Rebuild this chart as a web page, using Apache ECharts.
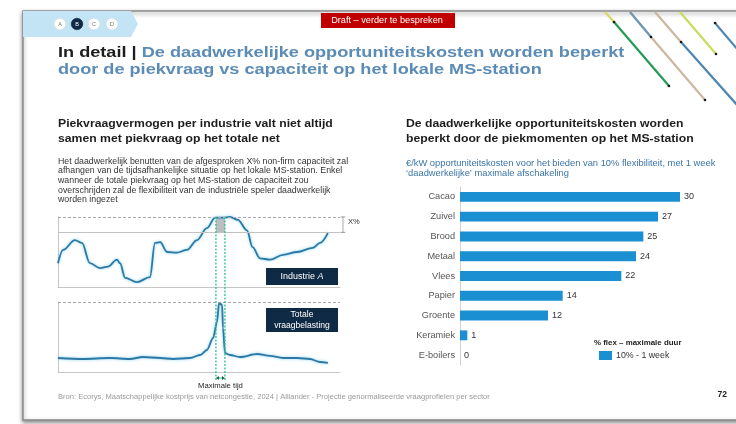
<!DOCTYPE html>
<html>
<head>
<meta charset="utf-8">
<script src="https://cdn.jsdelivr.net/npm/echarts@6/dist/echarts.min.js"></script>
<style>
  html, body { margin: 0; padding: 0; background: #ffffff; }
  #chart { width: 736px; height: 424px; }
</style>
</head>
<body>
<div id="chart"></div>
<script>
const FONT = '"Liberation Sans", Arial, sans-serif';

// Industrie A: demand over the period (time in % of period, load in % of contracted capacity)
const industryTime = [0, 1.8, 6, 8.5, 11.3, 14.9, 17.7, 20.9, 22, 23.8, 28, 32.6, 34.4, 36.2, 38.7, 42.2, 45.7, 49.3, 52.8, 55.7, 58.5, 61, 63.8, 67, 69, 71.6, 75.2, 79.8, 84.8, 90.4, 92.9, 95.7];
const industryLoad = [34, 53, 67, 63, 34, 27, 29, 39, 34, 13, 7, 14, 63, 64, 50, 49, 53, 67, 84, 99, 99, 100, 96, 81, 57, 41, 39, 46, 50, 56, 63, 77];

// Totale vraagbelasting on the MS-station over the same period
const totalTime = [0, 8.9, 18.4, 25.5, 30.1, 36.2, 40.8, 46.8, 50.4, 52.8, 55, 56.4, 57.1, 58.2, 58.5, 59.2, 61, 64.5, 70.6, 75.2, 79.8, 84.8, 89.4, 92.9, 95.7];
const totalLoad = [20, 18.6, 20, 18.6, 21.4, 20, 18.6, 20, 24.3, 31.4, 48.6, 71.4, 98.6, 95.7, 62.9, 27.1, 24.3, 21.4, 25.7, 22.9, 20, 20, 18.6, 14.3, 12.9];

const capacityLevel = 100;   // contracted capacity
const firmLevel = 78;        // firm part (capacity minus X%)
const peakWindow = [56, 59.2]; // moment of maximal total demand

// Opportunity cost per sector (EUR/kW)
const sectors = ['Cacao', 'Zuivel', 'Brood', 'Metaal', 'Vlees', 'Papier', 'Groente', 'Keramiek', 'E-boilers'];
const costs = [30, 27, 25, 24, 22, 14, 12, 1, 0];
const scenarioName = '10% - 1 week';

const pairs = (xs, ys) => xs.map((x, i) => [x, ys[i]]);

const chart = echarts.init(document.getElementById('chart'), null, { renderer: 'canvas' });

const lineStyleMain = {
  color: '#2d78a4', width: 1.8,
  shadowColor: 'rgba(120,205,240,0.9)', shadowBlur: 3
};
const hiddenAxis = (grid) => ({
  gridIndex: grid, type: 'value', min: 0, max: 100,
  axisLine: { show: true, lineStyle: { color: '#c6c6c6', width: 1 } },
  axisTick: { show: false }, axisLabel: { show: false }, splitLine: { show: false }
});

chart.setOption({
  animation: false,
  textStyle: { fontFamily: FONT },
  grid: [
    { left: 58, top: 217, width: 282, height: 70 },
    { left: 58, top: 302, width: 282, height: 70 },
    { left: 460, top: 187, width: 220, height: 178 }
  ],
  xAxis: [
    hiddenAxis(0),
    hiddenAxis(1),
    { gridIndex: 2, type: 'value', min: 0, max: 30, show: false }
  ],
  yAxis: [
    hiddenAxis(0),
    hiddenAxis(1),
    {
      gridIndex: 2, type: 'category', data: sectors, inverse: true,
      axisLine: { show: true, lineStyle: { color: '#d0d0d0' } },
      axisTick: { show: false },
      axisLabel: { color: '#555', fontSize: 9.2, margin: 5, fontFamily: FONT }
    }
  ],
  legend: {
    data: [scenarioName], left: 594, top: 346, icon: 'rect',
    itemWidth: 13, itemHeight: 9, itemGap: 0, selectedMode: false,
    textStyle: { fontSize: 8.8, color: '#333', fontFamily: FONT, padding: [0, 0, 0, -1] }
  },
  series: [
    {
      name: 'Industrie A', type: 'line', xAxisIndex: 0, yAxisIndex: 0,
      data: pairs(industryTime, industryLoad), symbol: 'none',
      smooth: 0.35, smoothMonotone: 'x', clip: false, z: 3,
      lineStyle: lineStyleMain,
      markLine: {
        silent: true, symbol: ['none', 'none'], label: { show: false },
        data: [
          { yAxis: capacityLevel, lineStyle: { type: [3, 2], color: '#a9a9a9', width: 1 } },
          { yAxis: firmLevel, lineStyle: { type: 'solid', color: '#c2c2c2', width: 1 } }
        ]
      },
      markArea: {
        silent: true, itemStyle: { color: '#bdbdbd' },
        data: [[{ xAxis: peakWindow[0], yAxis: firmLevel }, { xAxis: peakWindow[1], yAxis: capacityLevel }]]
      }
    },
    {
      name: 'Totale vraagbelasting', type: 'line', xAxisIndex: 1, yAxisIndex: 1,
      data: pairs(totalTime, totalLoad), symbol: 'none',
      smooth: 0.3, smoothMonotone: 'x', clip: false, z: 3,
      lineStyle: lineStyleMain,
      markLine: {
        silent: true, symbol: ['none', 'none'], label: { show: false },
        data: [{ yAxis: capacityLevel, lineStyle: { type: [3, 2], color: '#a9a9a9', width: 1 } }]
      }
    },
    {
      name: scenarioName, type: 'bar', xAxisIndex: 2, yAxisIndex: 2,
      data: costs, barCategoryGap: '50%',
      itemStyle: { color: '#1a8fd1' },
      label: { show: true, position: 'right', distance: 4, fontSize: 9, color: '#333', fontFamily: FONT }
    }
  ]
});

// Annotation geometry follows the axes of the first two panels
const xPeak0 = chart.convertToPixel({ xAxisIndex: 0 }, peakWindow[0]);
const xPeak1 = chart.convertToPixel({ xAxisIndex: 0 }, peakWindow[1]);
const yCap = chart.convertToPixel({ yAxisIndex: 0 }, capacityLevel);
const yFirm = chart.convertToPixel({ yAxisIndex: 0 }, firmLevel);
const xRight = chart.convertToPixel({ xAxisIndex: 0 }, 100);
const yArrow = 378;

// text element; sx widens the glyphs slightly like the slide typeface
const txt = (x, y, text, opts, sx) => ({
  type: 'text', x, y, scaleX: sx || 1, silent: true, z: 20,
  style: Object.assign({
    text, fontFamily: FONT, fontSize: 8, fill: '#333',
    textAlign: 'left', textVerticalAlign: 'middle'
  }, opts || {})
});
const seg = (x1, y1, x2, y2, stroke, lineWidth, extra) => ({
  type: 'line', silent: true, z: 15,
  shape: { x1, y1, x2, y2 },
  style: Object.assign({ stroke, lineWidth, lineCap: 'round' }, extra || {})
});
const dot = (x, y) => ({ type: 'circle', silent: true, z: 16, shape: { cx: x, cy: y, r: 1.3 }, style: { fill: '#1a1a1a' } });

const graphic = [];

// slide frame
graphic.push({
  type: 'rect', silent: true, z: -10,
  shape: { x: 23, y: 11, width: 800, height: 409 },
  style: { fill: '#ffffff', stroke: '#8c8c8c', lineWidth: 1.5, shadowColor: 'rgba(0,0,0,0.45)', shadowBlur: 4, shadowOffsetY: 2 }
});

// section tab with A-B-C-D markers
graphic.push({
  type: 'polygon', silent: true, z: 1,
  shape: { points: [[23, 11], [131, 11], [138, 24], [131, 37], [23, 37]] },
  style: { fill: '#c3e4f5' }
});
[['A', 60], ['B', 77], ['C', 94], ['D', 112]].forEach(([l, x]) => {
  const active = l === 'B';
  graphic.push({ type: 'circle', silent: true, z: 2, shape: { cx: x, cy: 24, r: 5.8 },
    style: { fill: active ? '#0f2a45' : '#ffffff', stroke: active ? '#0f2a45' : '#dddddd', lineWidth: 0.6 } });
  graphic.push(txt(x, 24.3, l, { textAlign: 'center', fontSize: 5.5, fill: active ? '#ffffff' : '#777' }));
});

// draft banner
graphic.push({ type: 'rect', silent: true, z: 2, shape: { x: 321, y: 13, width: 134, height: 15 }, style: { fill: '#c00000' } });
graphic.push(txt(387, 20.5, 'Draft \u2013 verder te bespreken', { textAlign: 'center', fontSize: 8.5, fill: '#ffffff' }, 1.08));

// decorative diagonal strokes
[
  [605, 12, 614, 22, '#d9d96a'], [614, 22, 669, 86, '#239a58'],
  [630, 12, 651, 37, '#6b93b3'], [651, 37, 705, 100, '#cbb99e'],
  [655, 12, 681, 42, '#c9b89f'], [681, 42, 738, 106, '#4f86b0'],
  [680, 12, 716, 54, '#c9dc5c'],
  [715, 23, 738, 50, '#4f86b0']
].forEach(s => graphic.push(seg(s[0], s[1], s[2], s[3], s[4], 2.2, { lineCap: 'butt' })));
[[614, 22], [669, 86], [651, 37], [705, 100], [681, 42], [716, 54], [715, 23]].forEach(p => graphic.push(dot(p[0], p[1])));

// slide title (two lines, block centred between both line centres)
graphic.push({
  type: 'text', x: 58, y: 61, scaleX: 1.17, silent: true, z: 20,
  style: {
    text: '{a|In detail | }{b|De daadwerkelijke opportuniteitskosten worden beperkt}\n{b|door de piekvraag vs capaciteit op het lokale MS-station}',
    textVerticalAlign: 'middle', lineHeight: 16.5,
    rich: {
      a: { fontFamily: FONT, fontSize: 15.5, fontWeight: 'bold', fill: '#1d1d1d', lineHeight: 16.5 },
      b: { fontFamily: FONT, fontSize: 15.5, fontWeight: 'bold', fill: '#5b8cb6', lineHeight: 16.5 }
    }
  }
});

// left panel texts
const headStyle = { fontSize: 11, fontWeight: 'bold', fill: '#1d1d1d' };
graphic.push(txt(58, 124, 'Piekvraagvermogen per industrie valt niet altijd', headStyle, 1.11));
graphic.push(txt(58, 139, 'samen met piekvraag op het totale net', headStyle, 1.11));
[
  'Het daadwerkelijk benutten van de afgesproken X% non-firm capaciteit zal',
  'afhangen van de tijdsafhankelijke situatie op het lokale MS-station. Enkel',
  'wanneer de totale piekvraag op het MS-station de capaciteit zou',
  'overschrijden zal de flexibiliteit van de industri\u00eble speler daadwerkelijk',
  'worden ingezet'
].forEach((l, i) => graphic.push(txt(58, 161.5 + i * 9.6, l, { fontSize: 8.2, fill: '#333' }, 1.075)));

// right panel texts
graphic.push(txt(406, 124, 'De daadwerkelijke opportuniteitskosten worden', headStyle, 1.11));
graphic.push(txt(406, 139, 'beperkt door de piekmomenten op het MS-station', headStyle, 1.11));
graphic.push(txt(406, 163.5, '\u20ac/kW opportuniteitskosten voor het bieden van 10% flexibiliteit, met 1 week', { fontSize: 8.4, fill: '#3a74a6' }, 1.115));
graphic.push(txt(406, 173.5, '\u2018daadwerkelijke\u2019 maximale afschakeling', { fontSize: 8.4, fill: '#3a74a6' }, 1.115));
graphic.push(txt(594, 343, '% flex \u2013 maximale duur', { fontSize: 7.4, fontWeight: 'bold', fill: '#222' }, 1.07));

// X% bracket between firm level and capacity
graphic.push(seg(xRight + 3, yCap, xRight + 3, yFirm, '#888', 0.8, { lineDash: [1, 1] }));
graphic.push(seg(xRight + 1, yCap, xRight + 5, yCap, '#888', 0.8));
graphic.push(seg(xRight + 1, yFirm, xRight + 5, yFirm, '#888', 0.8));
graphic.push(txt(xRight + 8, yCap + 5, 'X%', { fontSize: 7.5, fill: '#333' }));

// peak window markers through both panels
[xPeak0, xPeak1].forEach(x => graphic.push(seg(x, yCap, x, yArrow + 3, '#2fbf8f', 1.3, { lineDash: [2, 1.5], lineCap: 'butt' })));
graphic.push(seg(xPeak0 + 2, yArrow, xPeak1 - 2, yArrow, '#2fbf8f', 1));
graphic.push({ type: 'polygon', silent: true, z: 16, shape: { points: [[xPeak0, yArrow], [xPeak0 + 3, yArrow - 2], [xPeak0 + 3, yArrow + 2]] }, style: { fill: '#1f5f4c' } });
graphic.push({ type: 'polygon', silent: true, z: 16, shape: { points: [[xPeak1, yArrow], [xPeak1 - 3, yArrow - 2], [xPeak1 - 3, yArrow + 2]] }, style: { fill: '#1f5f4c' } });
graphic.push(txt((xPeak0 + xPeak1) / 2, 386, 'Maximale tijd', { textAlign: 'center', fontSize: 7.2, fill: '#222' }, 1.07));

// panel name tags
graphic.push({ type: 'rect', silent: true, z: 18, shape: { x: 266, y: 268, width: 72, height: 17 }, style: { fill: '#0f2a45' } });
graphic.push({
  type: 'text', x: 302, y: 276.5, scaleX: 1.08, silent: true, z: 20,
  style: {
    text: '{n|Industrie }{i|A}', textAlign: 'center', textVerticalAlign: 'middle',
    rich: {
      n: { fontFamily: FONT, fontSize: 8.3, fill: '#ffffff' },
      i: { fontFamily: FONT, fontSize: 8.3, fill: '#ffffff', fontStyle: 'italic' }
    }
  }
});
graphic.push({ type: 'rect', silent: true, z: 18, shape: { x: 266, y: 308, width: 72, height: 24 }, style: { fill: '#0f2a45' } });
graphic.push(txt(302, 315, 'Totale', { textAlign: 'center', fontSize: 8.2, fill: '#ffffff' }, 1.045));
graphic.push(txt(302, 325.5, 'vraagbelasting', { textAlign: 'center', fontSize: 8.2, fill: '#ffffff' }, 1.045));

// footer
graphic.push(txt(58, 397, 'Bron: Ecorys, Maatschappelijke kostprijs van netcongestie, 2024 | Alliander - Projectie genormaliseerde vraagprofielen per sector', { fontSize: 7, fill: '#9a9a9a' }, 1.08));
graphic.push(txt(727, 395, '72', { textAlign: 'right', fontSize: 8.5, fontWeight: 'bold', fill: '#222' }));

chart.setOption({ graphic: graphic });
</script>
</body>
</html>
